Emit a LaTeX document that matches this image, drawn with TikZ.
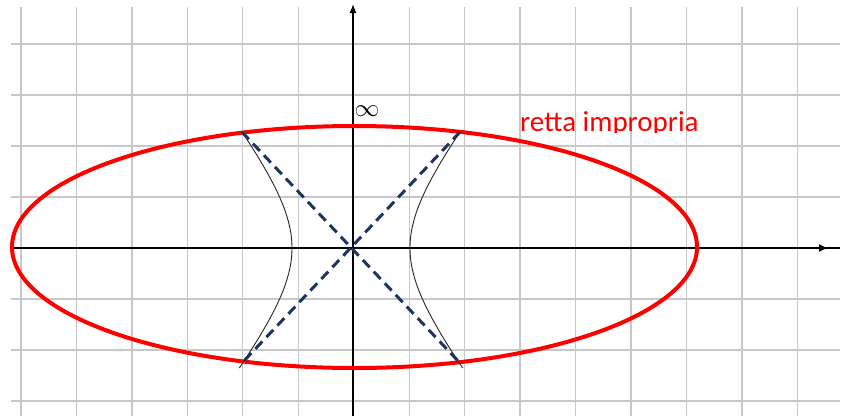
\documentclass[tikz,border=0pt]{standalone}
\usepackage{fontspec}
\newfontfamily\calib{Carlito}
\usetikzlibrary{arrows.meta}
\definecolor{navy}{HTML}{1F3560}
\begin{document}
\begin{tikzpicture}[x=1pt,y=-1pt,
  gridline/.style={draw=black!22,line width=1.3pt},
  axisline/.style={draw=black,line width=1.3pt},
  ell/.style={draw=red,line width=4pt},
  hyp/.style={draw=black!85,line width=0.9pt},
  asym/.style={draw=navy,line width=3pt,dash pattern=on 10pt off 6pt},
  lbl/.style={inner sep=0pt}]
\useasboundingbox (0,0) rectangle (849,416);
\fill[white] (0,0) rectangle (849,416);
% grid
\foreach \i in {0,...,14}
  \draw[gridline] ({21+55.45*\i},7) -- ({21+55.45*\i},416);
\foreach \j in {-4,...,3}
  \draw[gridline] (11,{248+51*\j}) -- (840,{248+51*\j});
% axes
\coordinate (xs) at (11,248);
\coordinate (xe) at (840,248);
\coordinate (xtip) at (828,248);
\coordinate (ys) at (353,416);
\coordinate (ye) at (353,4);
\draw[axisline] (xs) -- (xe);
\draw[axisline,-{Latex[length=9pt,width=8pt]}] (xs) -- (xtip);
\draw[axisline,-{Latex[length=9pt,width=7pt]}] (ys) -- (ye);
% ellipse (retta impropria)
\coordinate (C) at (354.5,247);
\draw[ell] (C) ellipse [x radius=342.5, y radius=121];
% hyperbola
\draw[hyp] plot[domain=-116:120, samples=80, smooth] ({351-59*sqrt(1+(\x/74.7)^2)}, {248+\x});
\draw[hyp] plot[domain=-116:120, samples=80, smooth] ({351+59*sqrt(1+(\x/74.7)^2)}, {248+\x});
% asymptotes
\coordinate (A1) at (242,132);
\coordinate (A2) at (460,363);
\coordinate (B1) at (460,132);
\coordinate (B2) at (242,363);
\draw[asym] (A1) -- (A2);
\draw[asym] (B1) -- (B2);
% labels
\node[lbl,font=\fontsize{25}{25}\selectfont] (inf) at (367,111) {$\infty$};
\begin{scope}
  \clip (500,95) rectangle (720,132.5);
  \node[lbl,anchor=base west,text=red,font=\calib\fontsize{29}{29}\selectfont] (retta) at (520,131.5) {retta impropria};
\end{scope}
\end{tikzpicture}
\end{document}
